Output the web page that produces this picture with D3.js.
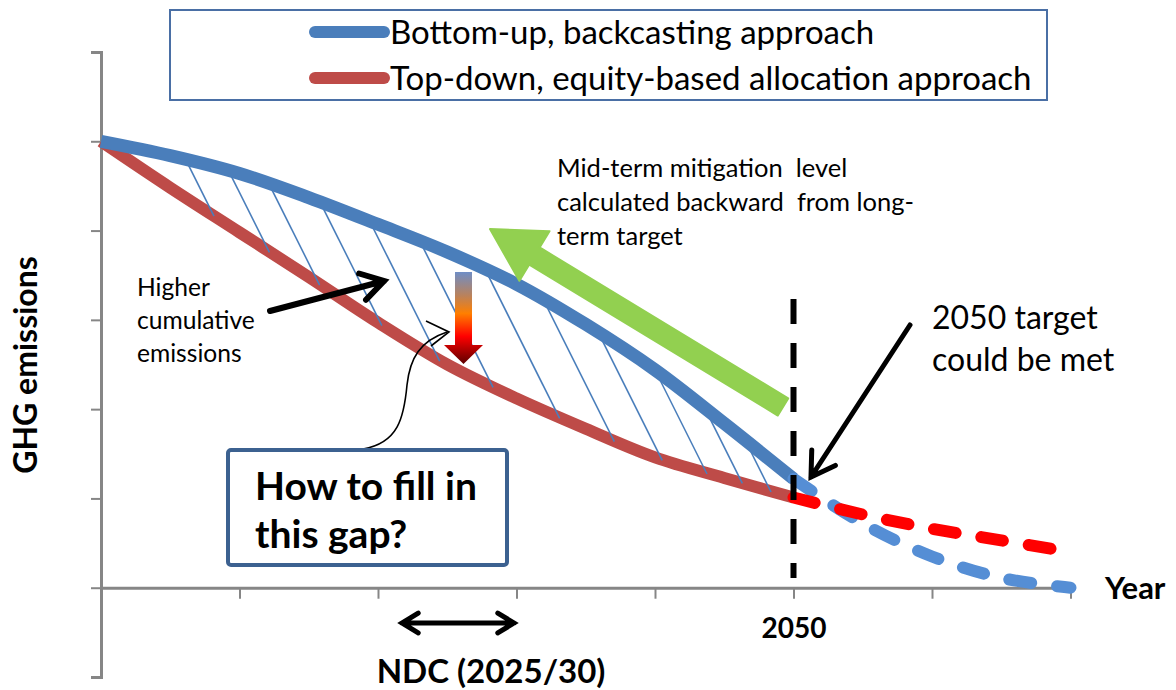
<!DOCTYPE html>
<html>
<head>
<meta charset="utf-8">
<script src="https://cdn.jsdelivr.net/npm/d3@7"></script>
<style>
  body { margin: 0; background: #fff; }
  text { font-family: Lato, "Open Sans", sans-serif; white-space: pre; }
</style>
</head>
<body>
<div id="chart"></div>
<script>
var W = 1176, H = 690;

// time axis in "tick" units, 5 = 2050; emissions in arbitrary units
var xTicks = [0, 1, 2, 3, 4, 5, 6, 7];
var yTicks = [-1, 0, 1, 2, 3, 4, 5, 6];
var xLabels = {5: "2050"};

var blueX = [0, 0.5, 1, 1.5, 2, 2.5, 3, 3.5, 4, 4.5, 5];
var blueY = [5.0, 4.84, 4.64, 4.37, 4.07, 3.76, 3.40, 2.95, 2.44, 1.84, 1.22];
var blueDashX = [5, 5.5, 6, 6.5, 7];
var blueDashY = [1.22, 0.72, 0.35, 0.11, 0.0];

var redX = [0, 0.5, 1, 1.5, 2, 2.5, 3, 3.5, 4, 4.5, 5];
var redY = [5.0, 4.48, 3.98, 3.48, 2.97, 2.50, 2.12, 1.78, 1.46, 1.23, 1.01];
var redDashX = [5, 5.5, 6, 6.5, 7];
var redDashY = [1.01, 0.82, 0.66, 0.53, 0.40];

var hatchTops = [0.61, 0.92, 1.21, 1.58, 1.94, 2.30, 2.77, 3.19, 3.59, 4.0, 4.36, 4.65];

var legendNames = ["Bottom-up, backcasting approach", "Top-down, equity-based allocation approach"];

var x = d3.scaleLinear().domain([0, 7]).range([101, 1070.5]);
var y = d3.scaleLinear().domain([-1, 6]).range([677, 52]);

var svg = d3.select("#chart").append("svg")
    .attr("width", W).attr("height", H);

var defs = svg.append("defs");
var grad = defs.append("linearGradient").attr("id", "drop")
    .attr("x1", 0).attr("y1", 0).attr("x2", 0).attr("y2", 1);
grad.append("stop").attr("offset", "0%").attr("stop-color", "#6f8ec6");
grad.append("stop").attr("offset", "25%").attr("stop-color", "#b8825e");
grad.append("stop").attr("offset", "45%").attr("stop-color", "#ff7f00");
grad.append("stop").attr("offset", "70%").attr("stop-color", "#ff0000");
grad.append("stop").attr("offset", "100%").attr("stop-color", "#5c0000");

// axes
var yAxis = svg.append("g")
    .attr("transform", "translate(" + x(0) + ",0)")
    .call(d3.axisLeft(y).tickValues(yTicks).tickSize(10).tickSizeOuter(10).tickFormat(""));
var xAxis = svg.append("g")
    .attr("transform", "translate(0," + y(0) + ")")
    .call(d3.axisBottom(x).tickValues(xTicks.slice(1)).tickSize(11).tickSizeOuter(0).tickFormat(""));
svg.selectAll(".domain").attr("stroke", "#868686").attr("stroke-width", 3);
svg.selectAll(".tick line").attr("stroke", "#868686").attr("stroke-width", 2);

xAxis.selectAll(".tick").filter(function(d) { return xLabels[d]; })
  .append("text")
    .attr("y", 50).attr("text-anchor", "middle")
    .attr("fill", "#000").attr("font-size", 28).attr("font-weight", "bold")
    .style("font-family", "Lato")
    .text(function(d) { return xLabels[d]; });

var line = d3.line()
    .x(function(d) { return x(d[0]); })
    .y(function(d) { return y(d[1]); })
    .curve(d3.curveCatmullRom.alpha(0.5));

function pts(xs, ys) { return xs.map(function(v, i) { return [v, ys[i]]; }); }

// red solid
var redPath = svg.append("path")
    .attr("d", line(pts(redX, redY)))
    .attr("fill", "none").attr("stroke", "#be4b48").attr("stroke-width", 12);

// blue solid (drawn after hatching)
var bluePathD = line(pts(blueX, blueY));
var tmpBlue = svg.append("path").attr("d", bluePathD).attr("fill", "none");

function sampler(p) {
  var node = p.node(), L = node.getTotalLength(), s = [];
  for (var l = 0; l <= L; l += 1) s.push(node.getPointAtLength(l));
  return function(px) {
    var best = s[0];
    for (var i = 0; i < s.length; i++) if (Math.abs(s[i].x - px) < Math.abs(best.x - px)) best = s[i];
    return best.y;
  };
}
var yb = sampler(tmpBlue), yr = sampler(redPath);
tmpBlue.remove();

// hatching between the two curves
hatchTops.forEach(function(t) {
  var x0 = x(t), y0 = yb(x0), x1 = x0, y1 = y0;
  while (y1 < yr(x1) && y1 < 600) { x1 += 0.5; y1 += 1; }
  svg.append("line")
    .attr("x1", x0).attr("y1", y0).attr("x2", x1).attr("y2", y1)
    .attr("stroke", "#4a7ebb").attr("stroke-width", 1.6);
});

svg.append("path")
    .attr("d", bluePathD)
    .attr("fill", "none").attr("stroke", "#4a7ebb").attr("stroke-width", 13);

// dashed continuations after 2050
svg.append("path")
    .attr("d", line(pts(blueDashX, blueDashY)))
    .attr("fill", "none").attr("stroke", "#558ed5").attr("stroke-width", 12)
    .attr("stroke-linecap", "round").attr("stroke-dasharray", "22,26");
svg.append("path")
    .attr("d", line(pts(redDashX, redDashY)))
    .attr("fill", "none").attr("stroke", "#ff0000").attr("stroke-width", 12)
    .attr("stroke-linecap", "round").attr("stroke-dasharray", "22,26");

// 2050 vertical dashed
svg.append("line")
    .attr("x1", x(5)).attr("x2", x(5)).attr("y1", 299).attr("y2", 578)
    .attr("stroke", "#000").attr("stroke-width", 6).attr("stroke-dasharray", "25,19");

// green arrow
(function() {
  var tail = [783, 407], tip = [490, 229];
  var dx = tip[0] - tail[0], dy = tip[1] - tail[1], len = Math.sqrt(dx * dx + dy * dy);
  var ux = dx / len, uy = dy / len, nx = -uy, ny = ux;
  var hl = 52, hw = 29, sw = 10;
  var bx = tip[0] - hl * ux, by = tip[1] - hl * uy;
  var p = [
    [tail[0] + sw * nx, tail[1] + sw * ny],
    [bx + sw * nx, by + sw * ny],
    [bx + hw * nx, by + hw * ny],
    tip,
    [bx - hw * nx, by - hw * ny],
    [bx - sw * nx, by - sw * ny],
    [tail[0] - sw * nx, tail[1] - sw * ny]
  ];
  svg.append("path")
    .attr("d", "M" + p.join("L") + "Z")
    .attr("fill", "#92d050").attr("stroke", "#92d050").attr("stroke-width", 2)
    .attr("stroke-linejoin", "round");
})();

// gradient drop arrow
svg.append("path")
    .attr("d", "M455,272 L472,272 L472,345 L483,345 L463.5,364 L444,345 L455,345 Z")
    .attr("fill", "url(#drop)");

// black arrows
function arrow(x1, y1, x2, y2, w, hl, both) {
  var a = Math.atan2(y2 - y1, x2 - x1), s = 0.55;
  function head(tx, ty, ang) {
    return "M" + (tx - hl * Math.cos(ang - s)) + "," + (ty - hl * Math.sin(ang - s)) +
           "L" + tx + "," + ty +
           "L" + (tx - hl * Math.cos(ang + s)) + "," + (ty - hl * Math.sin(ang + s));
  }
  var d = "M" + x1 + "," + y1 + "L" + x2 + "," + y2 + head(x2, y2, a);
  if (both) d += head(x1, y1, a + Math.PI);
  svg.append("path").attr("d", d)
    .attr("fill", "none").attr("stroke", "#000").attr("stroke-width", w)
    .attr("stroke-linecap", "round").attr("stroke-linejoin", "miter");
}
arrow(270, 311, 384, 281, 6, 26);
arrow(910, 325, 811, 477, 5, 27);
arrow(402, 623, 514, 623, 5, 19, true);

// curved connector from the box
svg.append("path")
    .attr("d", "M363,449 C398,443 404,418 407,385 C410,358 420,341 447,332")
    .attr("fill", "none").attr("stroke", "#000").attr("stroke-width", 1.6);
svg.append("path")
    .attr("d", "M426,321 L449,332 L431,346")
    .attr("fill", "none").attr("stroke", "#000").attr("stroke-width", 1.6);

// gap box
svg.append("rect")
    .attr("x", 228).attr("y", 450).attr("width", 279).attr("height", 115).attr("rx", 3)
    .attr("fill", "#fff").attr("stroke", "#3c6190").attr("stroke-width", 4);
var gap = svg.append("text").attr("font-size", 39).attr("font-weight", "bold").attr("fill", "#000");
gap.append("tspan").attr("x", 255).attr("y", 500).text("How to fill in");
gap.append("tspan").attr("x", 255).attr("y", 548).text("this gap?");

// annotations
function lines(arr, x0, ys, size) {
  var t = svg.append("text").attr("font-size", size).attr("fill", "#000");
  arr.forEach(function(s, i) { t.append("tspan").attr("x", x0).attr("y", ys[i]).text(s); });
}
lines(["Higher", "cumulative", "emissions"], 137, [296, 329, 362], 24.6);
lines(["Mid-term mitigation  level", "calculated backward  from long-", "term target"], 557, [177, 211, 245], 25.5);
lines(["2050 target", "could be met"], 932, [329, 371], 32);

// axis titles
svg.append("text")
    .attr("transform", "translate(37,365) rotate(-90)")
    .attr("text-anchor", "middle").attr("font-size", 32).attr("font-weight", "bold")
    .text("GHG emissions");
svg.append("text").attr("x", 1105).attr("y", 599)
    .attr("font-size", 31).attr("font-weight", "bold").text("Year");
svg.append("text").attr("x", 491).attr("y", 683).attr("text-anchor", "middle")
    .attr("font-size", 33).attr("font-weight", "bold").text("NDC (2025/30)");

// legend
var lg = svg.append("g");
lg.append("rect").attr("x", 170).attr("y", 10).attr("width", 877).attr("height", 90)
    .attr("fill", "#fff").attr("stroke", "#4a6fa5").attr("stroke-width", 2);
var legColors = ["#4a7ebb", "#be4b48"];
legendNames.forEach(function(n, i) {
  var cy = 32 + i * 46;
  lg.append("line").attr("x1", 315).attr("x2", 384).attr("y1", cy).attr("y2", cy)
    .attr("stroke", legColors[i]).attr("stroke-width", 12).attr("stroke-linecap", "round");
  lg.append("text").attr("x", 390).attr("y", cy + 12).attr("font-size", 33).attr("fill", "#000").text(n);
});
</script>
</body>
</html>
